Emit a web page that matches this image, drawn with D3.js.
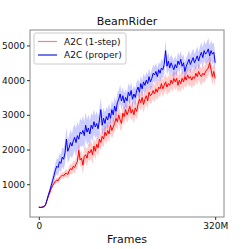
<!DOCTYPE html>
<html>
<head>
<meta charset="utf-8">
<script src="https://d3js.org/d3.v7.min.js"></script>
<style>
  body { margin: 0; background: #fff; }
  text { font-family: "DejaVu Sans", sans-serif; }
</style>
</head>
<body>
<div id="chart"></div>
<script>
// frames in millions, every 2.5M
var frames = d3.range(0, 129).map(function(i) { return i * 2.5; });

var properMean = [340, 330, 335, 345, 360, 420, 560, 700, 820, 960,
  1100, 1250, 1400, 1520, 1480, 1650, 1600, 1780, 1720, 1900,
  2300, 1950, 2050, 2200, 2100, 2250, 2350, 2200, 2400, 2300,
  2500, 2450, 2550, 2400, 2700, 2500, 2620, 2450, 2700, 2600,
  2800, 2650, 2750, 2600, 2850, 3150, 2700, 2900, 2750, 2950,
  2850, 3050, 2900, 3150, 3000, 3250, 3100, 3350, 3450, 3600,
  3400, 3550, 3350, 3500, 3400, 3650, 3550, 3700, 3450, 3600,
  3500, 3700, 3800, 3650, 3900, 3750, 3950, 3850, 4000, 3900,
  4100, 3950, 4050, 4200, 4150, 4250, 4100, 4300, 4200, 4350,
  4300, 4450, 4850, 4400, 4550, 4350, 4500, 4400, 4300, 4450,
  4350, 4550, 4450, 4600, 4400, 4500, 4250, 4400, 4500, 4600,
  4450, 4550, 4650, 4500, 4600, 4700, 4550, 4700, 4800, 4650,
  4850, 4750, 4800, 4900, 4700, 4850, 4750, 4800, 4500];
var properSpread = [15, 15, 15, 20, 25, 40, 60, 80, 100, 120,
  150, 180, 200, 220, 250, 230, 260, 280, 300, 320,
  350, 330, 360, 380, 350, 400, 380, 420, 400, 380,
  400, 380, 420, 400, 380, 360, 400, 380, 350, 370,
  350, 330, 360, 340, 320, 350, 300, 320, 300, 280,
  300, 280, 260, 280, 300, 270, 260, 280, 250, 270,
  260, 250, 270, 250, 240, 260, 250, 240, 260, 250,
  240, 250, 230, 250, 240, 230, 250, 240, 230, 250,
  240, 230, 250, 240, 230, 250, 240, 230, 250, 260,
  250, 270, 300, 260, 250, 260, 240, 250, 260, 250,
  240, 260, 250, 240, 260, 250, 270, 250, 240, 260,
  250, 260, 270, 250, 260, 280, 260, 270, 290, 280,
  300, 280, 300, 320, 300, 290, 300, 280, 270];

var oneStepMean = [340, 330, 335, 345, 360, 420, 540, 660, 760, 880,
  960, 1020, 1080, 1120, 1100, 1180, 1220, 1260, 1240, 1300,
  1320, 1280, 1380, 1450, 1420, 1520, 1480, 1580, 1650, 1980,
  1700, 1750, 1550, 1800, 1850, 1750, 1950, 1900, 2000, 1850,
  2100, 1950, 2150, 2050, 2300, 2200, 2380, 2300, 2500, 2400,
  2550, 2450, 2700, 2550, 2650, 2750, 2900, 2800, 3000, 2850,
  2750, 3050, 2950, 3150, 3000, 3100, 3250, 3050, 3150, 3000,
  3200, 3100, 3300, 3450, 3350, 3500, 3300, 3450, 3550, 3400,
  3650, 3550, 3600, 3700, 3600, 3750, 3650, 3800, 3750, 3900,
  3750, 3850, 3950, 3800, 3900, 3850, 4000, 3900, 4050, 3950,
  4050, 3850, 4000, 3900, 4050, 3950, 4100, 4000, 4150, 4050,
  4100, 4000, 4100, 4050, 4200, 4100, 4250, 4150, 4100, 4200,
  4150, 4250, 4300, 4350, 4500, 4300, 4100, 4250, 4050];
var oneStepSpread = [15, 15, 15, 20, 25, 30, 40, 50, 55, 60,
  60, 65, 70, 70, 80, 80, 90, 90, 100, 100,
  110, 120, 130, 140, 150, 160, 170, 180, 190, 220,
  200, 220, 250, 230, 240, 250, 230, 240, 250, 260,
  240, 250, 230, 250, 240, 230, 250, 240, 230, 240,
  230, 240, 250, 230, 240, 230, 250, 240, 230, 250,
  240, 230, 250, 240, 230, 240, 250, 230, 240, 250,
  240, 230, 250, 240, 230, 250, 240, 230, 250, 240,
  230, 240, 250, 230, 240, 250, 230, 240, 250, 230,
  240, 250, 230, 240, 250, 230, 240, 250, 230, 240,
  250, 230, 240, 250, 230, 240, 250, 230, 240, 250,
  230, 240, 250, 230, 240, 250, 230, 240, 250, 240,
  230, 240, 250, 240, 260, 250, 240, 250, 240];

var yTicks = [1000, 2000, 3000, 4000, 5000];
var xTicks = [0, 320];

var width = 249, height = 249;
var margin = {left: 30, right: 25, top: 30, bottom: 32};

var svg = d3.select("#chart").append("svg")
  .attr("width", width)
  .attr("height", height);

var x = d3.scaleLinear().domain([-16, 336]).range([margin.left, width - margin.right]);
var y = d3.scaleLinear().domain([55, 5445]).range([height - margin.bottom, margin.top]);

var series = [
  {name: "A2C (1-step)", mean: oneStepMean, spread: oneStepSpread, color: "#ff0000", legend: "#ff7f7f"},
  {name: "A2C (proper)", mean: properMean, spread: properSpread, color: "#0000ff", legend: "#1a1add"}
];

var area = d3.area()
  .x(function(d) { return x(d.f); })
  .y0(function(d) { return y(d.m - d.s); })
  .y1(function(d) { return y(d.m + d.s); });

var line = d3.line()
  .x(function(d) { return x(d.f); })
  .y(function(d) { return y(d.m); });

series.forEach(function(s) {
  s.pts = frames.map(function(f, i) { return {f: f, m: s.mean[i], s: s.spread[i]}; });
  svg.append("path")
    .attr("d", area(s.pts))
    .attr("fill", s.color)
    .attr("fill-opacity", 0.2);
});

series.forEach(function(s) {
  svg.append("path")
    .attr("d", line(s.pts))
    .attr("fill", "none")
    .attr("stroke", s.color)
    .attr("stroke-width", 1);
});

// frame
svg.append("rect")
  .attr("x", margin.left)
  .attr("y", margin.top)
  .attr("width", width - margin.left - margin.right)
  .attr("height", height - margin.top - margin.bottom)
  .attr("fill", "none")
  .attr("stroke", "#888")
  .attr("stroke-width", 1);

// axes
var yAxis = svg.append("g")
  .attr("transform", "translate(" + margin.left + ",0)")
  .call(d3.axisLeft(y).tickValues(yTicks).tickSize(3).tickPadding(2).tickFormat(d3.format("d")));
var xAxis = svg.append("g")
  .attr("transform", "translate(0," + (height - margin.bottom) + ")")
  .call(d3.axisBottom(x).tickValues(xTicks).tickSize(3).tickPadding(3)
    .tickFormat(function(d) { return d === 0 ? "0" : d + "M"; }));
[yAxis, xAxis].forEach(function(a) {
  a.select(".domain").remove();
  a.selectAll("line").attr("stroke", "#333");
  a.selectAll("text").attr("font-size", "9px").attr("fill", "#111")
    .style("font-family", "DejaVu Sans");
});

svg.append("text")
  .attr("x", (margin.left + width - margin.right) / 2)
  .attr("y", 25)
  .attr("text-anchor", "middle")
  .attr("font-size", "11px")
  .attr("fill", "#111")
  .text("BeamRider");

svg.append("text")
  .attr("x", (margin.left + width - margin.right) / 2)
  .attr("y", 243)
  .attr("text-anchor", "middle")
  .attr("font-size", "11px")
  .attr("fill", "#111")
  .text("Frames");

// legend
var lg = svg.append("g");
lg.append("rect")
  .attr("x", 34).attr("y", 33)
  .attr("width", 92).attr("height", 31)
  .attr("rx", 2)
  .attr("fill", "#fff").attr("fill-opacity", 0.8)
  .attr("stroke", "#ccc");
series.forEach(function(s, i) {
  var ly = 41.5 + i * 13.5;
  lg.append("line")
    .attr("x1", 38).attr("x2", 57)
    .attr("y1", ly).attr("y2", ly)
    .attr("stroke", s.legend).attr("stroke-width", 1.2);
  lg.append("text")
    .attr("x", 64).attr("y", ly + 3.2)
    .attr("font-size", "9px")
    .attr("fill", "#111")
    .text(s.name);
});
</script>
</body>
</html>
